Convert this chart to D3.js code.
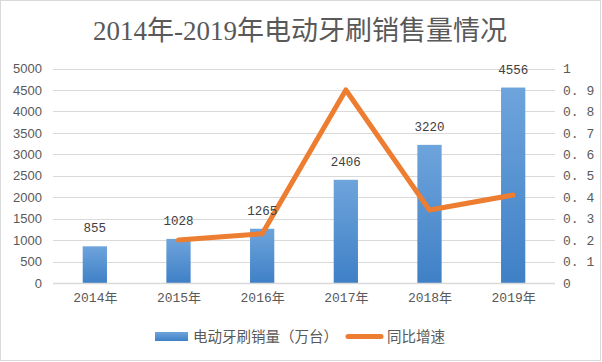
<!DOCTYPE html>
<html><head><meta charset="utf-8">
<script src="https://cdn.jsdelivr.net/npm/d3@7"></script>
<style>body{margin:0;background:#fff;}svg{display:block;}</style>
</head><body>
<script>
const categories = ["2014年","2015年","2016年","2017年","2018年","2019年"];
const sales = [855, 1028, 1265, 2406, 3220, 4556];
const growth = [null, 0.20, 0.23, 0.90, 0.34, 0.41];
const leftTicks = [0,500,1000,1500,2000,2500,3000,3500,4000,4500,5000];
const rightTicks = [0,0.1,0.2,0.3,0.4,0.5,0.6,0.7,0.8,0.9,1];
const rightTickLabels = ["0","0. 1","0. 2","0. 3","0. 4","0. 5","0. 6","0. 7","0. 8","0. 9","1"];
const title = "2014年-2019年电动牙刷销售量情况";
const legendNames = ["电动牙刷销量（万台）","同比增速"];

const W = 602, H = 362;
const svg = d3.select("body").append("svg").attr("width", W).attr("height", H);
svg.append("rect").attr("x",0.5).attr("y",0.5).attr("width",W-2).attr("height",H-2)
  .attr("fill","#fff").attr("stroke","#d9d9d9");

const defs = svg.append("defs");
const grad = defs.append("linearGradient").attr("id","bg").attr("x1",0).attr("y1",0).attr("x2",0).attr("y2",1);
grad.append("stop").attr("offset","0%").attr("stop-color","#6ea4dc");
grad.append("stop").attr("offset","100%").attr("stop-color","#3f80c6");

const plot = {left:53, right:555, top:68.5, bottom:283};
const x = d3.scaleBand().domain(categories).range([plot.left, plot.right]).paddingInner(0.71).paddingOuter(0.355);
const xc = d3.scalePoint().domain(categories).range([plot.left, plot.right]).padding(0.5);
const yL = d3.scaleLinear().domain([0,5000]).range([plot.bottom, plot.top]);
const yR = d3.scaleLinear().domain([0,1]).range([plot.bottom, plot.top]);

svg.append("text").attr("x", 300).attr("y", 40).attr("text-anchor","middle")
  .attr("font-family","'Liberation Serif','Noto Sans CJK SC',serif").attr("font-size",27)
  .attr("fill","#595959").text(title);

// gridlines
svg.append("g").selectAll("line").data(leftTicks.slice(1)).join("line")
  .attr("x1",plot.left).attr("x2",plot.right)
  .attr("y1",d=>Math.round(yL(d))+0.5).attr("y2",d=>Math.round(yL(d))+0.5)
  .attr("stroke","#d9d9d9").attr("stroke-width",1);

// left axis
const gL = svg.append("g").attr("transform",`translate(${plot.left},0)`)
  .call(d3.axisLeft(yL).tickValues(leftTicks).tickSize(0).tickPadding(11).tickFormat(d3.format("d")));
gL.select(".domain").remove();
gL.selectAll("text").attr("font-family","'Liberation Sans',Arial,sans-serif").attr("font-size",13).attr("fill","#595959");

// right axis
const gR = svg.append("g").attr("transform",`translate(${plot.right},0)`)
  .call(d3.axisRight(yR).tickValues(rightTicks).tickSize(0).tickPadding(8).tickFormat((d,i)=>rightTickLabels[i]));
gR.select(".domain").remove();
gR.selectAll("text").attr("font-family","'Liberation Mono',monospace").attr("font-size",13).attr("fill","#595959").style("white-space","pre");

// bars
svg.append("g").selectAll("rect").data(sales).join("rect")
  .attr("x",(d,i)=>x(categories[i])).attr("width",x.bandwidth())
  .attr("y",d=>yL(d)).attr("height",d=>plot.bottom-yL(d))
  .attr("fill","url(#bg)");

// x axis line
svg.append("line").attr("x1",plot.left).attr("x2",plot.right)
  .attr("y1",plot.bottom+0.5).attr("y2",plot.bottom+0.5).attr("stroke","#d9d9d9").attr("stroke-width",1.5);

const gX = svg.append("g").attr("transform",`translate(0,${plot.bottom})`)
  .call(d3.axisBottom(xc).tickSize(0).tickPadding(10));
gX.select(".domain").remove();
gX.selectAll("text").attr("font-family","'Liberation Mono','Noto Sans CJK SC',monospace").attr("font-size",13).attr("fill","#595959");

// line
const line = d3.line().defined(d=>d!==null).x((d,i)=>xc(categories[i])).y(d=>yR(d));
svg.append("path").datum(growth).attr("d",line).attr("fill","none")
  .attr("stroke","#ed7d31").attr("stroke-width",5).attr("stroke-linejoin","round").attr("stroke-linecap","round");

// data labels (drawn on top)
svg.append("g").selectAll("text").data(sales).join("text")
  .attr("x",(d,i)=>xc(categories[i])).attr("y",d=>yL(d)-14)
  .attr("text-anchor","middle").attr("font-family","'Liberation Mono',monospace").attr("font-size",12.5)
  .attr("fill","#404040").text(d=>d);

// legend
const lg = svg.append("g");
lg.append("rect").attr("x",155).attr("y",332).attr("width",33).attr("height",9).attr("fill","url(#bg)");
lg.append("text").attr("x",193).attr("y",342).attr("font-family","'Noto Sans CJK SC',sans-serif").attr("font-size",14.5).attr("fill","#595959").text(legendNames[0]);
lg.append("line").attr("x1",348).attr("x2",381).attr("y1",336.5).attr("y2",336.5).attr("stroke","#ed7d31").attr("stroke-width",5).attr("stroke-linecap","round");
lg.append("text").attr("x",387).attr("y",342).attr("font-family","'Noto Sans CJK SC',sans-serif").attr("font-size",14.5).attr("fill","#595959").text(legendNames[1]);
</script>
</body></html>
